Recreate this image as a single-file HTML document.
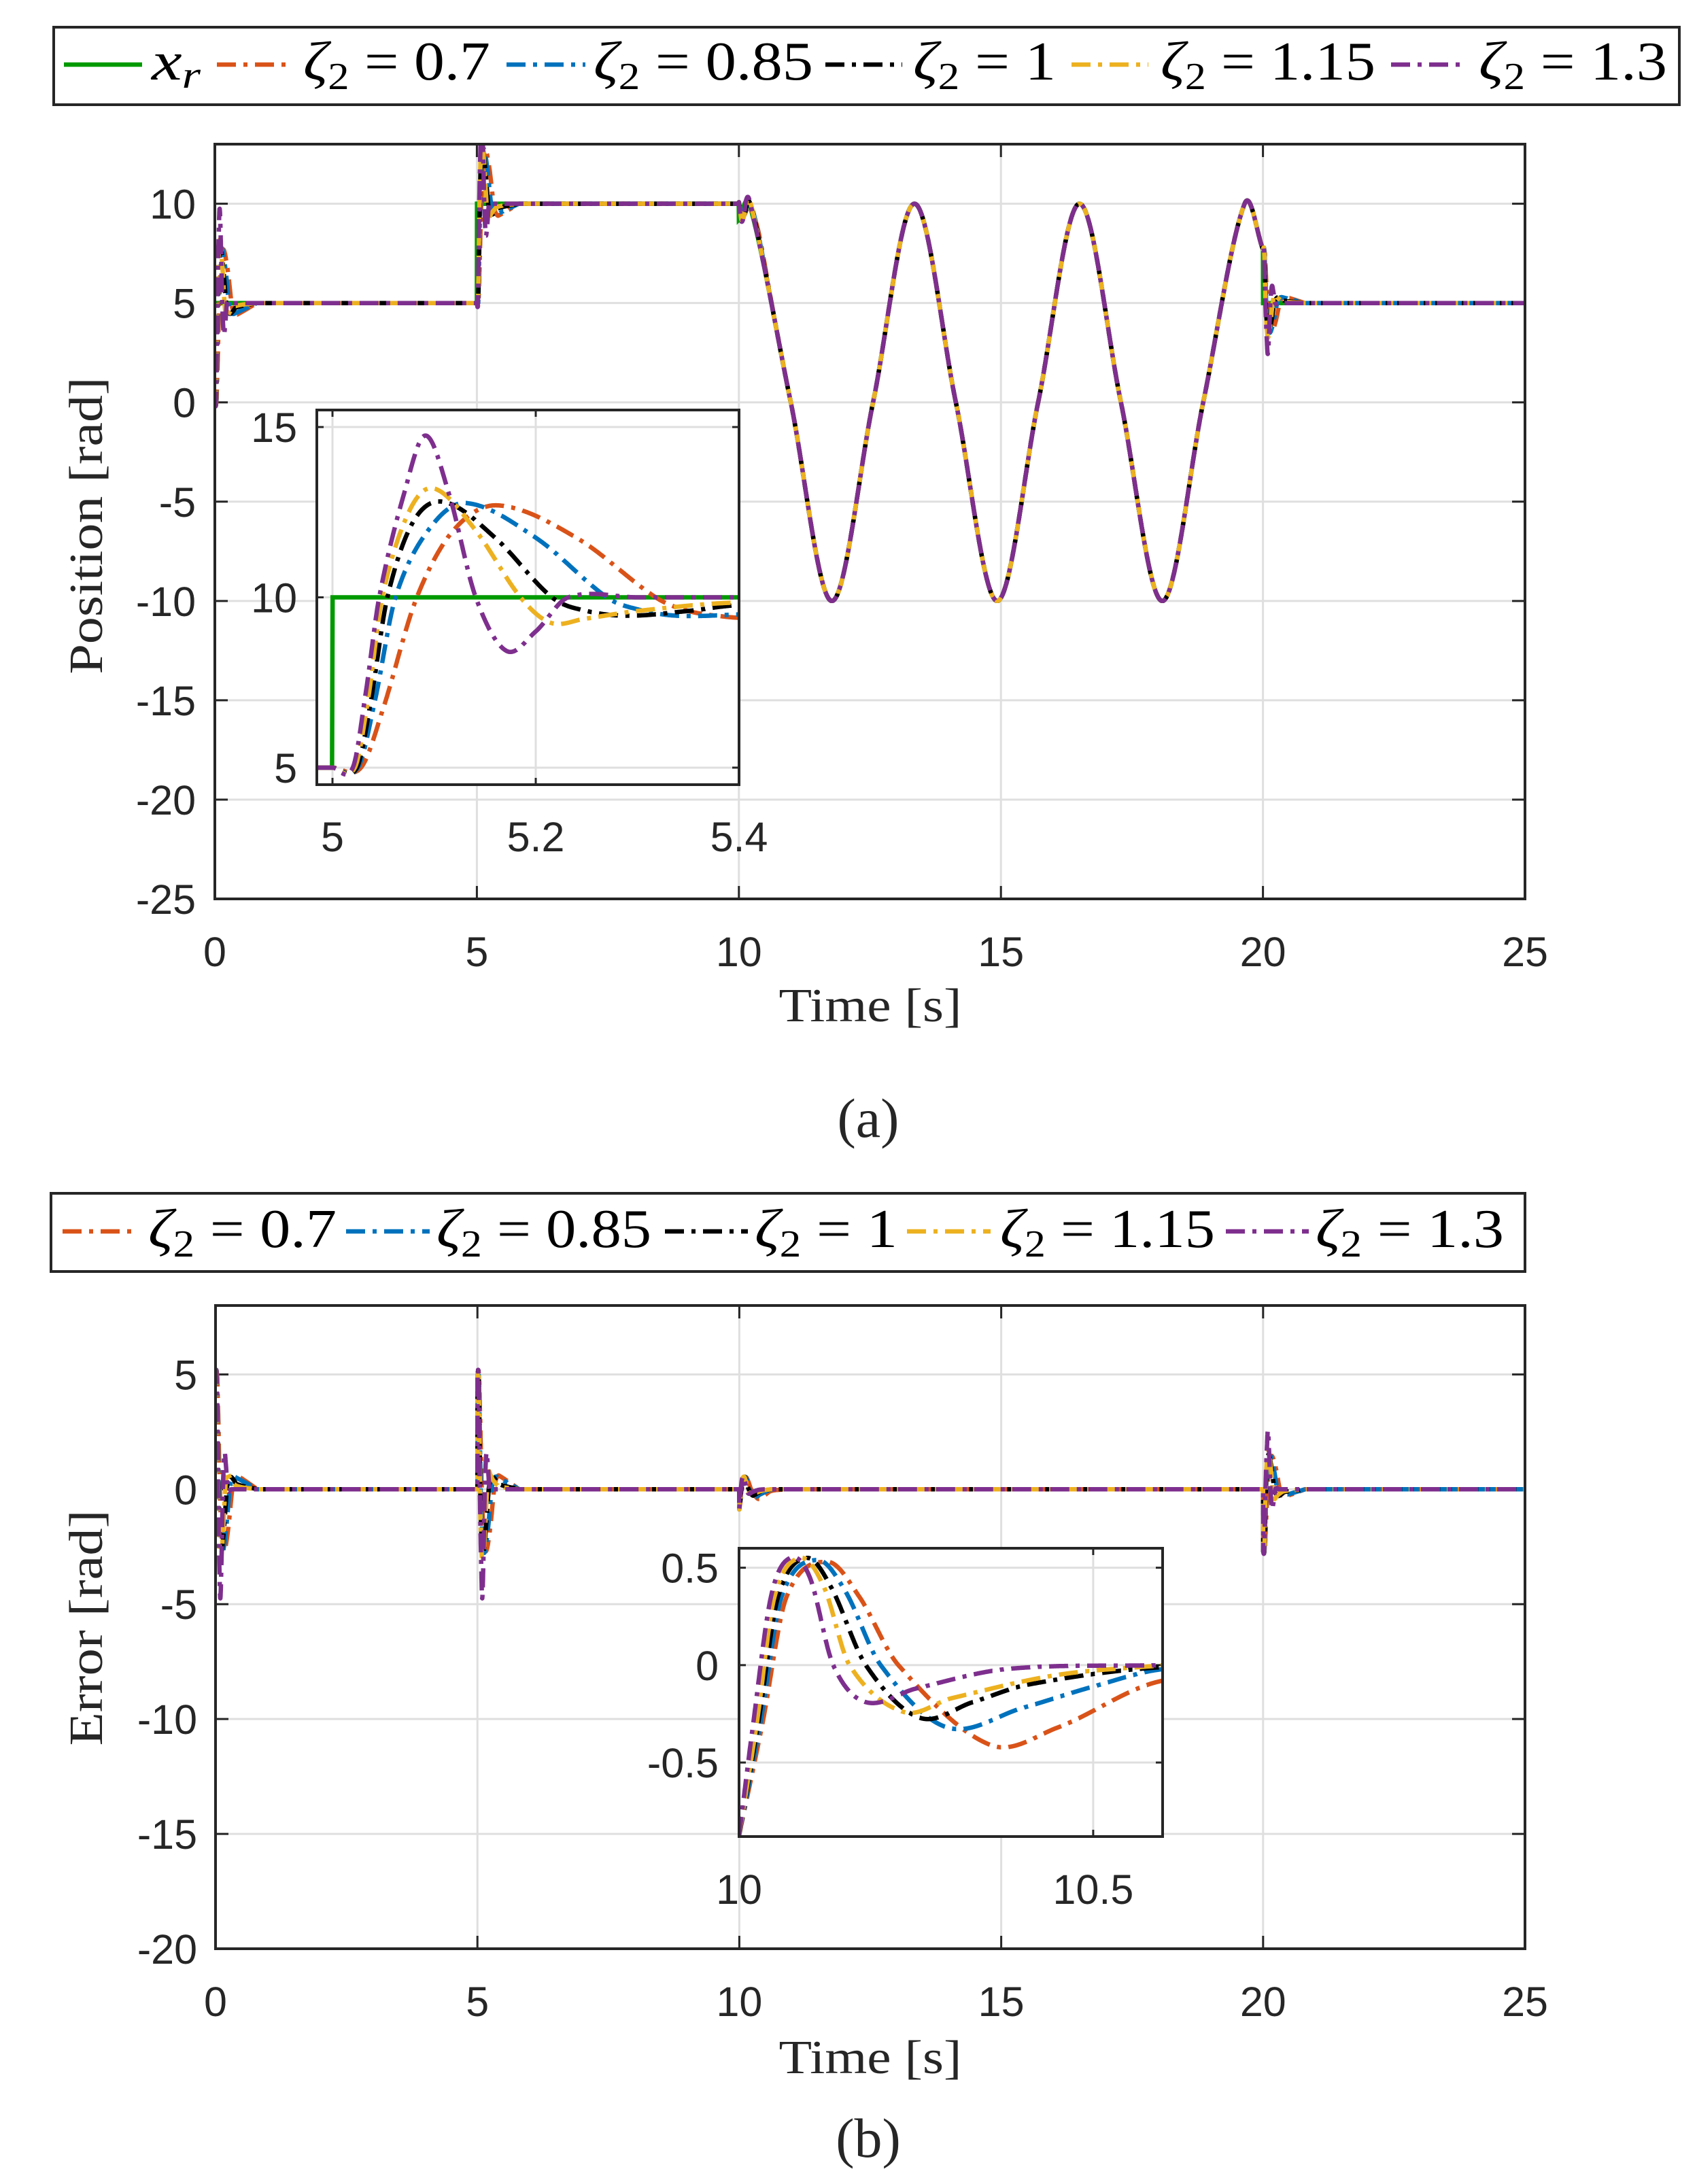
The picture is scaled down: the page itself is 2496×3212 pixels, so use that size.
<!DOCTYPE html>
<html><head><meta charset="utf-8"><style>
html,body{margin:0;padding:0;background:#fff;}
svg{display:block;}
</style></head><body>
<svg id="chart" xmlns="http://www.w3.org/2000/svg" width="2496" height="3212" viewBox="0 0 2496 3212"></svg>
<script>
// ---- data ----
const seriesNames = ['zeta-0.7','zeta-0.85','zeta-1','zeta-1.15','zeta-1.3'];
const seriesColors = ['#D95319','#0072BD','#000000','#EDB120','#7E2F8E'];
const seriesLabels = ['0.7','0.85','1','1.15','1.3'];
// step response (fraction of step) vs time after step
const stepT07 = [0,0.028,0.05,0.083,0.12,0.163,0.24,0.318,0.35,0.387,0.41,0.8];
const stepV07 = [0,0,0.35,1,1.4,1.54,1.35,1,0.92,0.886,0.88,1];
const stepT085 = [0,0.025,0.042,0.062,0.095,0.131,0.2,0.27,0.3,0.339,0.4,0.8];
const stepV085 = [0,0,0.4,1,1.4,1.554,1.35,1,0.93,0.892,0.9,1];
const stepT1 = [0,0.024,0.038,0.054,0.08,0.11,0.16,0.216,0.25,0.291,0.35,0.4,0.8];
const stepV1 = [0,0,0.4,1,1.45,1.56,1.35,1,0.92,0.892,0.92,0.954,1];
const stepT115 = [0,0.022,0.035,0.049,0.075,0.0995,0.14,0.185,0.215,0.248,0.3,0.4,0.8];
const stepV115 = [0,0,0.4,1,1.5,1.64,1.4,1,0.85,0.874,0.92,0.97,1];
const stepT13 = [0,0.02,0.033,0.046,0.07,0.0915,0.115,0.141,0.171,0.2,0.232,0.3,0.8];
const stepV13 = [0,0,0.45,1,1.6,1.95,1.6,1,0.686,0.8,1,1,1];
// tracking error after t = 10 s
const errT07 = [0,0.033,0.067,0.125,0.17,0.225,0.355,0.45,0.598,0.9];
const errV07 = [-0.876,-0.3,0.35,0.53,0.35,0,-0.41,-0.32,-0.08,0];
const errT085 = [0,0.03,0.06,0.11,0.15,0.2,0.294,0.4,0.5,0.6,0.8];
const errV085 = [-0.876,-0.3,0.35,0.54,0.38,0,-0.32,-0.22,-0.11,-0.02,0];
const errT1 = [0,0.027,0.055,0.095,0.13,0.179,0.255,0.33,0.408,0.6,0.9];
const errV1 = [-0.876,-0.3,0.35,0.55,0.4,0,-0.27,-0.19,-0.1,-0.01,0];
const errT115 = [0,0.025,0.05,0.087,0.12,0.156,0.232,0.3,0.45,0.6];
const errV115 = [-0.876,-0.3,0.35,0.55,0.4,0,-0.24,-0.17,-0.05,0];
const errT13 = [0,0.02,0.045,0.072,0.1,0.133,0.179,0.25,0.378,0.6];
const errV13 = [-0.876,-0.3,0.35,0.55,0.45,0,-0.19,-0.12,-0.02,0];
// reference keyframes
const refLevels = [5,10,5];
const sineT = [10,10.2,10.99,11.775,12.56,13.35,14.14,14.93,15.71,16.5,17.29,18.08,18.86,19.65,20];
const sineV = [9.2,10,0,-10,0,10,0,-10,0,10,0,-10,0,10,7.7];
// ticks
const topYTicks = [-25,-20,-15,-10,-5,0,5,10];
const botYTicks = [-20,-15,-10,-5,0,5];
const mainXTicks = [0,5,10,15,20,25];
const inset1XTicks = [5,5.2,5.4];
const inset1YTicks = [5,10,15];
const inset2XTicks = [10,10.5];
const inset2YTicks = [-0.5,0,0.5];

const stepTs=[stepT07,stepT085,stepT1,stepT115,stepT13];
const stepVs=[stepV07,stepV085,stepV1,stepV115,stepV13];
const errTs=[errT07,errT085,errT1,errT115,errT13];
const errVs=[errV07,errV085,errV1,errV115,errV13];

const NS='http://www.w3.org/2000/svg';
const svg=document.getElementById('chart');
const DASH='28 11 6 11';
const LW=6.5;
function mk(tag,attrs,parent){const e=document.createElementNS(NS,tag);for(const k in attrs)e.setAttribute(k,attrs[k]);(parent||svg).appendChild(e);return e;}

function interp(ts,vs,t){
  const n=ts.length;
  if(t<=ts[0])return vs[0];
  if(t>=ts[n-1])return vs[n-1];
  let i=0;while(ts[i+1]<t)i++;
  const t0=ts[i],t1=ts[i+1],v0=vs[i],v1=vs[i+1],h=t1-t0;
  const m0=i>0?(vs[i+1]-vs[i-1])/(ts[i+1]-ts[i-1]):(v1-v0)/h;
  const m1=i+2<n?(vs[i+2]-vs[i])/(ts[i+2]-ts[i]):(v1-v0)/h;
  const s=(t-t0)/h,s2=s*s,s3=s2*s;
  return (2*s3-3*s2+1)*v0+(s3-2*s2+s)*h*m0+(-2*s3+3*s2)*v1+(s3-s2)*h*m1;
}
function xr(t){
  if(t<5)return refLevels[0];
  if(t<10)return refLevels[1];
  if(t<20)return interp(sineT,sineV,t);
  return refLevels[2];
}
function xs(k,t){
  const f=(d)=>interp(stepTs[k],stepVs[k],d);
  if(t<5)return refLevels[0]*f(t);
  if(t<10)return refLevels[0]+(refLevels[1]-refLevels[0])*f(t-5);
  if(t<20)return xr(t)-interp(errTs[k],errVs[k],t-10);
  const a=sineV[sineV.length-1];
  return a+(refLevels[2]-a)*f(t-20);
}
function es(k,t){return xr(t)-xs(k,t);}

let clipId=0;
function axes(name,box,xl,yl,xt,yt,xfmt,yfmt,opt){
  const g=mk('g',{});
  
  
  const X=v=>box.x+(v-xl[0])/(xl[1]-xl[0])*box.w;
  const Y=v=>box.y+box.h-(v-yl[0])/(yl[1]-yl[0])*box.h;
  const bg=mk('rect',{x:box.x,y:box.y,width:box.w,height:box.h,fill:'#fff'},g);
  
  
  const tl=opt.tick;
  for(const v of xt){const x=X(v);
    const gl=mk('line',{x1:x,x2:x,y1:box.y,y2:box.y+box.h,stroke:'#dfdfdf','stroke-width':3},g);
    
    
    const t1=mk('line',{x1:x,x2:x,y1:box.y+box.h,y2:box.y+box.h-tl,stroke:'#262626','stroke-width':3},g);
    
    
    const t2=mk('line',{x1:x,x2:x,y1:box.y,y2:box.y+tl,stroke:'#262626','stroke-width':3},g);
    
    
    const lb=mk('text',{x:x,y:opt.xLabelY,'text-anchor':'middle','font-family':'Liberation Sans, sans-serif','font-size':61,fill:'#262626'},svg);
    lb.textContent=xfmt(v);
    
    
  }
  for(const v of yt){const y=Y(v);
    const gl=mk('line',{x1:box.x,x2:box.x+box.w,y1:y,y2:y,stroke:'#dfdfdf','stroke-width':3},g);
    
    
    const t1=mk('line',{x1:box.x,x2:box.x+tl,y1:y,y2:y,stroke:'#262626','stroke-width':3},g);
    
    
    const t2=mk('line',{x1:box.x+box.w,x2:box.x+box.w-tl,y1:y,y2:y,stroke:'#262626','stroke-width':3},g);
    
    
    const lb=mk('text',{x:opt.yLabelX,y:y+22,'text-anchor':'end','font-family':'Liberation Sans, sans-serif','font-size':61,fill:'#262626'},svg);
    lb.textContent=yfmt(v);
    
    
  }
  const cid='clip'+(clipId++);
  const cp=mk('clipPath',{id:cid},g);
  mk('rect',{x:box.x,y:box.y,width:box.w,height:box.h},cp);
  const plot=mk('g',{'clip-path':'url(#'+cid+')'},g);
  
  
  return {g,plot,X,Y,finish(){
    const fr=mk('rect',{x:box.x,y:box.y,width:box.w,height:box.h,fill:'none',stroke:'#262626','stroke-width':4},g);
    
    
  }};
}
function trace(ax,fn,t0,t1,dt,color,dashed,name){
  let d='';
  for(let t=t0;t<=t1+1e-9;t+=dt){
    let y=fn(t);
    d+=(d?'L':'M')+ax.X(t).toFixed(1)+','+ax.Y(y).toFixed(1);
  }
  const p=mk('path',{d:d,fill:'none',stroke:color,'stroke-width':LW,'stroke-linejoin':'round'},ax.plot);
  if(dashed)p.setAttribute('stroke-dasharray',DASH);
  
  
  return p;
}
function refTrace(ax,t0,t1,dt,name){
  let d='';
  for(let t=t0;t<=t1+1e-9;t+=dt){
    d+=(d?'L':'M')+ax.X(t).toFixed(1)+','+ax.Y(xr(t)).toFixed(1);
  }
  const p=mk('path',{d:d,fill:'none',stroke:'#009A00','stroke-width':LW},ax.plot);
  
  
}

// ---------- top chart ----------
const A=axes('position-axes',{x:316,y:212,w:1927,h:1110},[0,25],[-25,13],mainXTicks,topYTicks,v=>String(v),v=>String(v),{tick:19,xLabelY:1421,yLabelX:288});
refTrace(A,0,25,0.002,'reference-line');
for(let k=0;k<5;k++) trace(A,t=>xs(k,t),0,25,0.002,seriesColors[k],true,'position-'+seriesNames[k]);
A.finish();

const I1=axes('position-inset',{x:466,y:603,w:621,h:551},[4.9846,5.4],[4.5,15.5],inset1XTicks,inset1YTicks,v=>String(v),v=>String(v),{tick:10,xLabelY:1252,yLabelX:437});
refTrace(I1,4.9846,5.4,0.0005,'inset-reference-line');
for(let k=0;k<5;k++) trace(I1,t=>xs(k,t),4.9846,5.4,0.0005,seriesColors[k],true,'inset-position-'+seriesNames[k]);
I1.finish();

// ---------- bottom chart ----------
const B=axes('error-axes',{x:317,y:1920,w:1926,h:946},[0,25],[-20,8],mainXTicks,botYTicks,v=>String(v),v=>String(v),{tick:19,xLabelY:2965,yLabelX:290});
for(let k=0;k<5;k++) trace(B,t=>es(k,t),0,25,0.002,seriesColors[k],true,'error-'+seriesNames[k]);
B.finish();

const I2=axes('error-inset',{x:1087,y:2277,w:623,h:424},[10,10.598],[-0.88,0.6],inset2XTicks,inset2YTicks,v=>String(v),v=>String(v),{tick:10,xLabelY:2800,yLabelX:1057});
for(let k=0;k<5;k++) trace(I2,t=>es(k,t),10,10.598,0.0005,seriesColors[k],true,'inset-error-'+seriesNames[k]);
I2.finish();

// ---------- legends ----------
function legend(name,box,entries,lineY,baseY){
  const g=mk('g',{});
  
  
  const r=mk('rect',{x:box.x,y:box.y,width:box.w,height:box.h,fill:'#fff',stroke:'#262626','stroke-width':4},g);
  
  
  for(const en of entries){
    const ln=mk('line',{x1:en.l0,x2:en.l1,y1:lineY,y2:lineY,stroke:en.color,'stroke-width':LW},g);
    if(en.dash)ln.setAttribute('stroke-dasharray',DASH);
    
    
    const tx=mk('text',{x:en.t0,y:baseY,'font-family':'Liberation Serif, serif','font-size':80,fill:'#000',textLength:en.t1-en.t0,lengthAdjust:'spacingAndGlyphs'},g);
    tx.innerHTML=en.html;
    
    
  }
}
const zeta=v=>'<tspan font-style="italic">ζ</tspan><tspan font-size="56" dy="14">2</tspan><tspan dy="-14"> = '+v+'</tspan>';
legend('legend-position',{x:79,y:40,w:2391,h:114},[
 {l0:94,l1:209,t0:223,t1:295,color:'#009A00',dash:false,html:'<tspan font-style="italic">x</tspan><tspan font-style="italic" font-size="56" dy="12">r</tspan>'},
 {l0:319,l1:430,t0:446,t1:721,color:seriesColors[0],dash:true,html:zeta(seriesLabels[0])},
 {l0:745,l1:861,t0:873,t1:1196,color:seriesColors[1],dash:true,html:zeta(seriesLabels[1])},
 {l0:1214,l1:1327,t0:1343,t1:1553,color:seriesColors[2],dash:true,html:zeta(seriesLabels[2])},
 {l0:1576,l1:1689,t0:1707,t1:2023,color:seriesColors[3],dash:true,html:zeta(seriesLabels[3])},
 {l0:2046,l1:2157,t0:2175,t1:2452,color:seriesColors[4],dash:true,html:zeta(seriesLabels[4])}
],95,117);
legend('legend-error',{x:75,y:1755,w:2168,h:115},[
 {l0:92,l1:204,t0:218,t1:495,color:seriesColors[0],dash:true,html:zeta(seriesLabels[0])},
 {l0:509,l1:632,t0:642,t1:958,color:seriesColors[1],dash:true,html:zeta(seriesLabels[1])},
 {l0:978,l1:1100,t0:1110,t1:1320,color:seriesColors[2],dash:true,html:zeta(seriesLabels[2])},
 {l0:1334,l1:1457,t0:1471,t1:1787,color:seriesColors[3],dash:true,html:zeta(seriesLabels[3])},
 {l0:1803,l1:1925,t0:1935,t1:2212,color:seriesColors[4],dash:true,html:zeta(seriesLabels[4])}
],1811,1834);

// ---------- labels ----------
function label(txt,x,y,len,rot,name,size){
  const t=mk('text',{x:x,y:y,'text-anchor':'middle','font-family':'Liberation Serif, serif','font-size':size||70,fill:'#262626'});
  if(len){t.setAttribute('textLength',len);t.setAttribute('lengthAdjust','spacingAndGlyphs');}
  if(rot)t.setAttribute('transform','rotate(-90 '+x+' '+y+')');
  t.textContent=txt;
  
  
}
label('Time [s]',1280,1502,269,false,'x-axis-title-top');
label('Position [rad]',150,773,437,true,'y-axis-title-top');
label('(a)',1277,1672,0,false,'caption-a',82);
label('Time [s]',1280,3049,269,false,'x-axis-title-bottom');
label('Error [rad]',150,2394,347,true,'y-axis-title-bottom');
label('(b)',1277,3172,0,false,'caption-b',82);
</script>
</body></html>
